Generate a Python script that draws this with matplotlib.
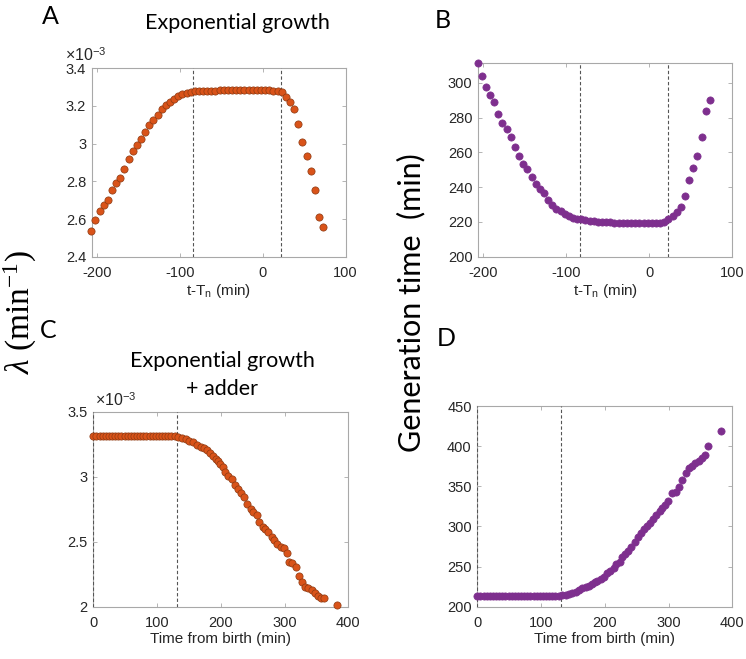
import matplotlib.pyplot as plt

plt.rcParams['font.family'] = ['Liberation Sans', 'DejaVu Sans']
plt.rcParams['axes.unicode_minus'] = False
plt.rcParams['mathtext.fontset'] = 'custom'
plt.rcParams['mathtext.rm'] = 'Liberation Serif'
plt.rcParams['mathtext.it'] = 'Liberation Serif:italic'
plt.rcParams['mathtext.sf'] = 'Liberation Sans'

# ---- data (growth rate in units of 1e-3 min^-1) ----
t_a = [-207, -202, -197, -192, -187, -182, -177, -172, -167, -162, -157, -152,
       -147, -142, -137, -132, -127, -122, -117, -112, -107, -102, -97, -92,
       -87, -82, -77, -72, -67, -62, -57, -52, -47, -42, -37, -32, -27, -22,
       -17, -12, -7, -2, 3, 8, 13, 18, 23, 28, 33, 38, 43, 48, 53, 58, 63,
       68, 73]
lam_a = [2.538, 2.595, 2.641, 2.676, 2.699, 2.756, 2.791, 2.819, 2.865, 2.917,
         2.963, 2.991, 3.026, 3.063, 3.099, 3.126, 3.150, 3.182, 3.205, 3.223,
         3.239, 3.251, 3.262, 3.269, 3.274, 3.278,
         3.279, 3.280, 3.281, 3.282, 3.282, 3.283, 3.283, 3.283, 3.283, 3.283,
         3.283, 3.283, 3.283, 3.283, 3.283, 3.283, 3.283, 3.283, 3.282, 3.281,
         3.276, 3.246, 3.220, 3.186, 3.104, 3.007, 2.935, 2.857, 2.754, 2.612,
         2.559]
gen_b = [311.7, 304.0, 297.5, 292.9, 289.1, 282.2, 277.0, 273.4, 268.8, 262.9,
         257.7, 253.4, 250.2, 245.6, 242.0, 239.1, 236.6, 232.8, 229.7, 227.4,
         226.1, 224.5, 223.2, 222.4, 221.8, 221.5,
         221.0, 220.6, 220.3, 220.1, 219.9, 219.8, 219.7, 219.6, 219.6, 219.5,
         219.5, 219.5, 219.5, 219.5, 219.5, 219.5, 219.5, 219.5, 219.6, 219.8,
         221.5, 223.4, 225.9, 228.6, 234.9, 243.9, 251.1, 258.0, 268.6, 283.7,
         289.9]
marks_ab = [-84, 22]

t_c = [0, 4.9, 9.8, 14.7, 19.6, 24.5, 29.4, 34.3, 39.2, 44.1, 49.0, 53.9, 58.8,
       63.7, 68.6, 73.5, 78.4, 83.3, 88.2, 93.1, 98.0, 102.9, 107.8, 112.7,
       117.6, 122.5, 127.4,
       133.0, 139.6, 144.8, 150.6, 156.9, 163.1, 168.9, 173.6, 178.3, 183.0,
       187.2, 191.9, 196.0, 198.7, 202.9, 207.0, 211.8, 217.0, 222.2, 226.4,
       231.1, 236.9, 241.6, 246.8, 251.0, 256.2, 260.4, 265.6, 269.8, 274.5,
       279.7, 283.4, 288.6, 294.4, 299.0, 303.3, 307.5, 312.2, 317.4, 322.6,
       326.8, 332.0, 337.3, 342.5, 347.7, 352.9, 357.1, 361.8, 381.7]
lam_c = [3.313] * 27 + [
       3.308, 3.300, 3.290, 3.277, 3.264, 3.246, 3.228, 3.218, 3.205, 3.180,
       3.159, 3.138, 3.120, 3.100, 3.077, 3.038, 3.008, 2.982, 2.936, 2.903,
       2.877, 2.846, 2.790, 2.751, 2.731, 2.705, 2.649, 2.615, 2.595, 2.572,
       2.538, 2.513, 2.482, 2.462, 2.449, 2.415, 2.341, 2.333, 2.308, 2.238,
       2.192, 2.154, 2.141, 2.128, 2.103, 2.085, 2.064, 2.069, 2.013]

t_d = [0, 4.9, 9.8, 14.7, 19.6, 24.5, 29.4, 34.3, 39.2, 44.1, 49.0, 53.9, 58.8,
       63.7, 68.6, 73.5, 78.4, 83.3, 88.2, 93.1, 98.0, 102.9, 107.8, 112.7,
       117.6, 122.5, 127.4,
       132.8, 138.6, 143.8, 149.0, 154.2, 159.5, 164.7, 169.9, 175.2, 180.4,
       184.0, 188.2, 193.5, 198.7, 203.4, 208.6, 213.9, 218.0, 223.3, 227.5,
       232.2, 236.3, 241.6, 246.8, 252.0, 256.2, 261.4, 266.1, 271.4, 275.6,
       280.8, 286.0, 290.2, 294.9, 299.6, 305.9, 311.1, 316.3, 321.6, 326.8,
       332.0, 337.3, 342.0, 347.2, 352.4, 356.6, 361.8, 381.7]
gen_d = [213.4] * 27 + [
       214.1, 214.9, 216.2, 217.4, 218.7, 220.8, 222.8, 224.5, 225.7, 227.8,
       230.3, 232.4, 234.5, 237.4, 241.5, 244.9, 248.6, 252.7, 256.1, 261.9,
       265.2, 268.9, 274.8, 281.0, 286.4, 291.8, 296.8, 300.1, 304.2, 309.2,
       313.8, 319.2, 323.3, 326.7, 332.1, 341.2, 342.4, 349.5, 357.8, 366.9,
       372.3, 375.7, 378.6, 381.9, 385.6, 389.4, 399.8, 418.9]
marks_cd = [0, 132]

ORANGE = '#D95319'
PURPLE = '#7E2F8E'
W, H = 746, 659


def box(l, t, r, b):
    return [l / W, 1 - b / H, (r - l) / W, (b - t) / H]


def style(ax):
    for s in ax.spines.values():
        s.set_color('#a8a8a8')
        s.set_linewidth(0.8)
    ax.tick_params(direction='in', length=3, width=0.6, color='#a8a8a8',
                   top=True, right=True, labelsize=10.5, labelcolor='#262626')
    ax.tick_params(axis='x', pad=7)
    ax.tick_params(axis='y', pad=4)


fig = plt.figure(figsize=(W / 100, H / 100), dpi=100)

axA = fig.add_axes(box(91.7, 68.3, 345.5, 256.7))
axB = fig.add_axes(box(478, 62.5, 732.3, 256.7))
axC = fig.add_axes(box(93.3, 411.7, 348.3, 606.7))
axD = fig.add_axes(box(477.3, 406, 732.3, 606.7))

panels = [
    (axA, t_a, lam_a, ORANGE, '#8c3a12', marks_ab),
    (axB, t_a, gen_b, PURPLE, PURPLE, marks_ab),
    (axC, t_c, lam_c, ORANGE, '#8c3a12', marks_cd),
    (axD, t_d, gen_d, PURPLE, PURPLE, marks_cd),
]
for ax, x, y, fc, ec, marks in panels:
    for m in marks:
        ax.axvline(m, color='#555555', ls=(0, (3, 2)), lw=0.8, zorder=2.6)
    ax.plot(x, y, 'o', ms=5.2, mfc=fc, mec=ec, mew=0.5, zorder=3, clip_on=False)
    style(ax)

axA.set_xlim(-206.5, 100)
axA.set_ylim(2.4, 3.4)
axA.set_xticks([-200, -100, 0, 100])
axA.set_yticks([2.4, 2.6, 2.8, 3.0, 3.2, 3.4])
axA.set_yticklabels(['2.4', '2.6', '2.8', '3', '3.2', '3.4'])
axA.set_xlabel('t-T$_\\mathsf{n}$ (min)', fontsize=11, color='#262626', labelpad=1)

axB.set_xlim(-206.5, 100)
axB.set_ylim(200, 311.7)
axB.set_xticks([-200, -100, 0, 100])
axB.set_yticks([200, 220, 240, 260, 280, 300])
axB.set_xlabel('t-T$_\\mathsf{n}$ (min)', fontsize=11, color='#262626', labelpad=1)

axC.set_xlim(0, 400)
axC.set_ylim(2.0, 3.5)
axC.set_xticks([0, 100, 200, 300, 400])
axC.set_yticks([2.0, 2.5, 3.0, 3.5])
axC.set_yticklabels(['2', '2.5', '3', '3.5'])
axC.set_xlabel('Time from birth (min)', fontsize=11, color='#262626', labelpad=1)

axD.set_xlim(0, 400)
axD.set_ylim(200, 450)
axD.set_xticks([0, 100, 200, 300, 400])
axD.set_yticks([200, 250, 300, 350, 400, 450])
axD.set_xlabel('Time from birth (min)', fontsize=11, color='#262626', labelpad=1)

# exponent labels
fig.text(65 / W, 1 - 61 / H, '×10$^{\\mathsf{-3}}$', fontsize=11.5, color='#262626')
fig.text(95 / W, 1 - 406 / H, '×10$^{\\mathsf{-3}}$', fontsize=11.5, color='#262626')

# panel letters and titles
lato = ['Lato', 'DejaVu Sans']
for lbl, px, py in [('A', 50, 16), ('B', 443, 21), ('C', 48, 331), ('D', 446, 338)]:
    fig.text(px / W, 1 - py / H, lbl, fontsize=18, family=lato, ha='center', va='center')
fig.text(237 / W, 1 - 23 / H, 'Exponential growth', fontsize=15.5, family=lato,
         ha='center', va='center')
fig.text(222 / W, 1 - 375 / H, 'Exponential growth\n+ adder', fontsize=15.5,
         family=lato, ha='center', va='center', linespacing=1.45)

# shared y labels
fig.text(20 / W, 1 - 312 / H, r'$\lambda\ (\mathrm{min}^{-1})$', fontsize=24,
         rotation=90, ha='center', va='center')
fig.text(411 / W, 1 - 303 / H, 'Generation time  (min)', fontsize=22, family=lato,
         rotation=90, ha='center', va='center')

fig.savefig('out.png', dpi=100)
